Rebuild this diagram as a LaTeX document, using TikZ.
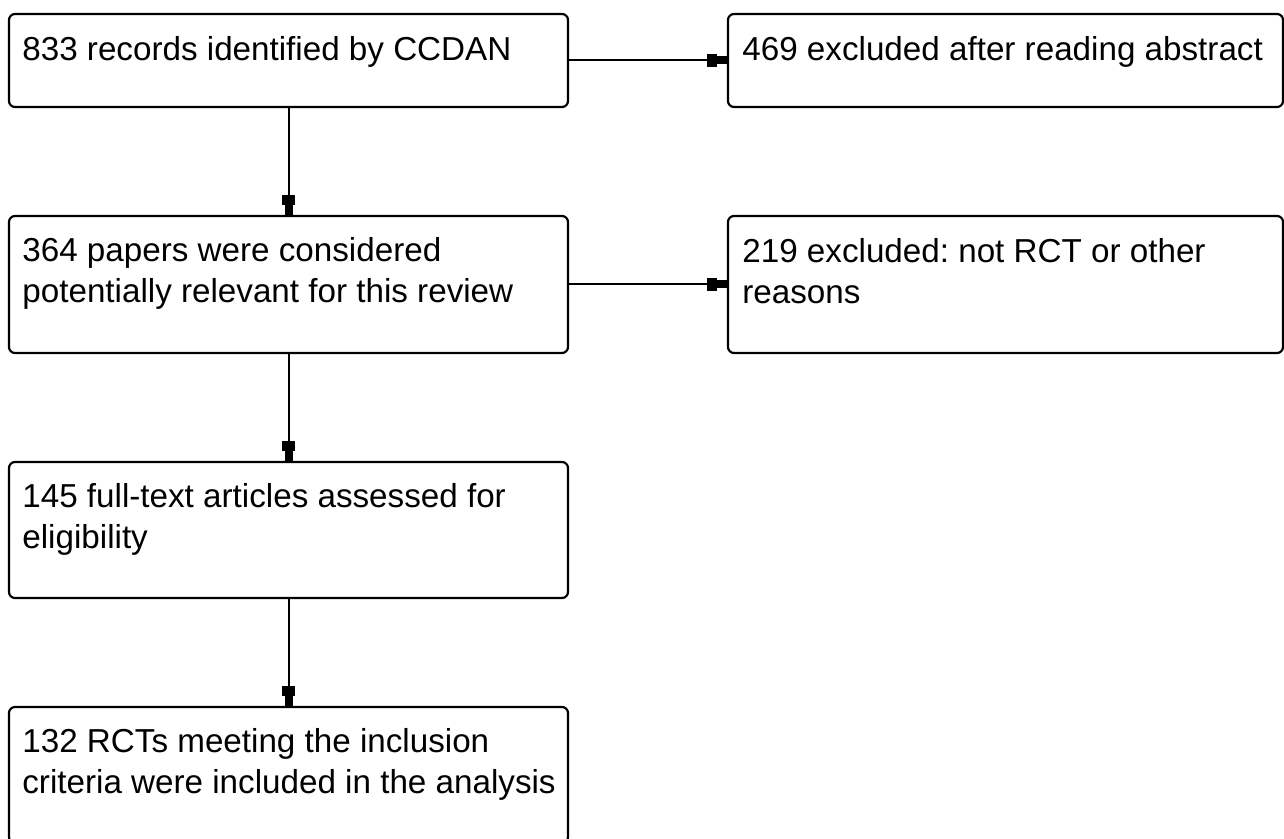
\documentclass[tikz,border=0pt]{standalone}
\usepackage{fontspec}
\setmainfont{Liberation Sans}
\usetikzlibrary{arrows.meta}
\frenchspacing

\tikzset{
  stagebox/.style={draw, line width=1.1pt, rectangle, rounded corners=3pt,
    inner sep=0pt, minimum width=279.5pt},
  stagetext/.style={anchor=north west, inner sep=0pt, align=left,
    font=\fontsize{16.6}{20.5}\selectfont},
  flowarrow/.style={line width=1pt,
    -{Rectangle[length=5pt,width=6.5pt] Rectangle[length=5pt,width=4pt]}}
}

\begin{document}
\begin{tikzpicture}[x=0.5pt, y=-0.5pt]
  \useasboundingbox (0,0) rectangle (1284,839);
  % left column
  \node[stagebox, minimum height=46.5pt] (identified) at (288.5,60.5) {};
  \node[stagebox, minimum height=68.5pt] (screened) at (288.5,284.5) {};
  \node[stagebox, minimum height=68pt] (assessed) at (288.5,530) {};
  \node[stagebox, minimum height=68pt] (included) at (288.5,775) {};
  % right column
  \node[stagebox, minimum width=277.5pt, minimum height=46.5pt] (exclabstract) at (1005.5,60.5) {};
  \node[stagebox, minimum width=277.5pt, minimum height=68.5pt] (exclother) at (1005.5,284.5) {};
  % texts
  \node[stagetext] (identified-t) at (22,36) {833 records identified by CCDAN};
  \node[stagetext] (screened-t) at (22,237) {364 papers were considered\\potentially relevant for this review};
  \node[stagetext] (assessed-t) at (22,483) {145 full-text articles assessed for\\eligibility};
  \node[stagetext] (included-t) at (22,728) {132 RCTs meeting the inclusion\\criteria were included in the analysis};
  \node[stagetext] (exclabstract-t) at (742,36) {469 excluded after reading abstract};
  \node[stagetext] (exclother-t) at (742,238) {219 excluded: not RCT or other\\reasons};
  % connectors
  \draw[flowarrow] (identified) -- (screened);
  \draw[flowarrow] (screened) -- (assessed);
  \draw[flowarrow] (assessed) -- (included);
  \draw[flowarrow] (identified) -- (exclabstract);
  \draw[flowarrow] (screened) -- (exclother);
\end{tikzpicture}
\end{document}
